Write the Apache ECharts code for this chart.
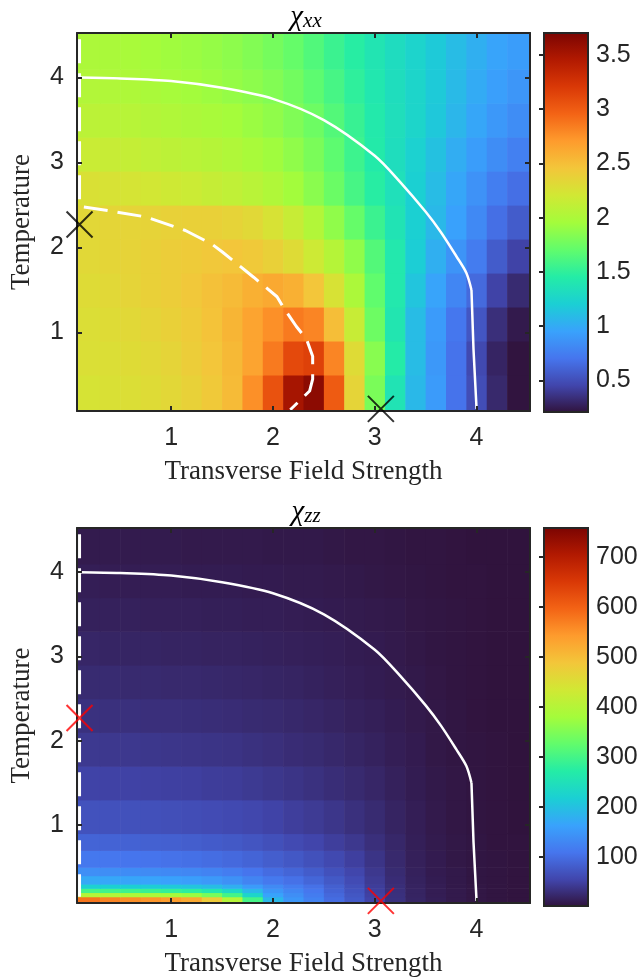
<!DOCTYPE html>
<html>
<head>
<meta charset="utf-8">
<script src="https://cdn.jsdelivr.net/npm/echarts@6/dist/echarts.min.js"></script>
<style>
  html, body { margin: 0; padding: 0; background: #fff; }
  #chart { width: 642px; height: 978px; }
</style>
</head>
<body>
<div id="chart"></div>
<script>
// cell edges (data units)
const xEdges = [0.075, 0.3, 0.5, 0.7, 0.9, 1.1, 1.3, 1.5, 1.7, 1.9, 2.1, 2.3, 2.5, 2.7, 2.9, 3.1, 3.3, 3.5, 3.7, 3.9, 4.1, 4.3, 4.525]
const xxYEdges = [0.075, 0.5, 0.9, 1.3, 1.7, 2.1, 2.5, 2.9, 3.3, 3.7, 4.1, 4.525]
const zzYEdges = [0.075, 0.15, 0.2, 0.25, 0.3, 0.4, 0.5, 0.7, 0.9, 1.3, 1.7, 2.1, 2.5, 2.9, 3.3, 3.7, 4.1, 4.525]

// chi_xx, rows from bottom to top
const chiXX = [
  [2.24, 2.26, 2.28, 2.3, 2.33, 2.37, 2.43, 2.52, 2.75, 3.05, 3.5, 3.62, 3.0, 2.35, 1.8, 1.38, 1.08, 0.92, 0.7, 0.5, 0.32, 0.22],
  [2.27, 2.28, 2.3, 2.32, 2.35, 2.4, 2.45, 2.53, 2.65, 2.85, 3.1, 3.15, 2.8, 2.3, 1.85, 1.45, 1.1, 0.9, 0.7, 0.48, 0.3, 0.22],
  [2.28, 2.3, 2.32, 2.35, 2.38, 2.42, 2.47, 2.55, 2.65, 2.75, 2.85, 2.8, 2.5, 2.15, 1.75, 1.4, 1.1, 0.92, 0.72, 0.55, 0.35, 0.25],
  [2.3, 2.32, 2.35, 2.38, 2.4, 2.44, 2.48, 2.52, 2.58, 2.62, 2.58, 2.45, 2.25, 2.0, 1.7, 1.42, 1.15, 0.97, 0.8, 0.65, 0.45, 0.33],
  [2.32, 2.34, 2.36, 2.38, 2.4, 2.42, 2.44, 2.45, 2.43, 2.38, 2.3, 2.18, 2.05, 1.88, 1.65, 1.42, 1.2, 1.03, 0.88, 0.75, 0.58, 0.45],
  [2.33, 2.34, 2.35, 2.36, 2.37, 2.38, 2.38, 2.36, 2.32, 2.25, 2.15, 2.03, 1.88, 1.72, 1.55, 1.38, 1.22, 1.08, 0.95, 0.82, 0.68, 0.58],
  [2.26, 2.25, 2.23, 2.21, 2.19, 2.17, 2.14, 2.11, 2.07, 2.02, 1.95, 1.86, 1.74, 1.6, 1.47, 1.35, 1.22, 1.1, 0.98, 0.87, 0.76, 0.68],
  [2.16, 2.15, 2.13, 2.11, 2.09, 2.07, 2.05, 2.02, 1.98, 1.94, 1.88, 1.8, 1.69, 1.56, 1.44, 1.33, 1.23, 1.13, 1.02, 0.93, 0.84, 0.77],
  [2.08, 2.07, 2.06, 2.04, 2.02, 2.0, 1.98, 1.96, 1.92, 1.88, 1.82, 1.75, 1.65, 1.54, 1.43, 1.34, 1.26, 1.17, 1.07, 0.98, 0.9, 0.84],
  [2.03, 2.02, 2.01, 1.99, 1.97, 1.95, 1.93, 1.9, 1.87, 1.83, 1.77, 1.69, 1.6, 1.5, 1.41, 1.33, 1.26, 1.18, 1.09, 1.01, 0.94, 0.89],
  [2.0, 1.99, 1.98, 1.96, 1.94, 1.92, 1.9, 1.87, 1.83, 1.78, 1.72, 1.64, 1.55, 1.47, 1.39, 1.32, 1.25, 1.18, 1.1, 1.03, 0.97, 0.93]
]

// chi_zz, rows from bottom to top
const chiZZ = [
  [580, 565, 555, 548, 540, 525, 480, 400, 300, 190, 150, 125, 100, 80, 55, 35, 22, 15, 10, 7, 5, 4],
  [400, 395, 392, 388, 382, 372, 345, 300, 230, 165, 140, 118, 95, 76, 52, 34, 21, 14, 10, 7, 5, 4],
  [300, 297, 294, 290, 285, 278, 262, 235, 190, 150, 130, 112, 90, 72, 50, 33, 21, 14, 10, 7, 5, 4],
  [222, 220, 218, 215, 211, 206, 196, 180, 155, 135, 120, 105, 86, 68, 48, 32, 20, 14, 9, 7, 5, 4],
  [172, 170, 168, 166, 163, 159, 153, 143, 128, 115, 105, 93, 78, 63, 45, 30, 19, 13, 9, 6, 5, 4],
  [141, 140, 138, 136, 134, 131, 127, 120, 110, 100, 92, 82, 70, 57, 42, 28, 18, 12, 9, 6, 5, 4],
  [113, 112, 110, 109, 107, 104, 101, 97, 91, 84, 77, 69, 60, 50, 38, 26, 17, 12, 8, 6, 5, 4],
  [91, 90, 89, 87, 86, 84, 81, 78, 74, 68, 62, 56, 49, 42, 33, 24, 16, 11, 8, 6, 4, 4],
  [71, 70, 69, 68, 67, 65, 63, 61, 58, 54, 49, 45, 40, 34, 28, 21, 15, 10, 7, 5, 4, 3],
  [54, 53, 53, 52, 51, 50, 48, 47, 44, 41, 38, 35, 31, 27, 23, 18, 13, 9, 7, 5, 4, 3],
  [43, 42, 42, 41, 40, 39, 38, 37, 35, 33, 30, 28, 25, 22, 19, 15, 12, 8, 6, 5, 4, 3],
  [35, 34, 34, 33, 33, 32, 31, 30, 28, 27, 25, 23, 21, 18, 16, 13, 10, 8, 6, 4, 3, 3],
  [28, 28, 27, 27, 26, 26, 25, 24, 23, 22, 21, 19, 17, 15, 13, 11, 9, 7, 5, 4, 3, 3],
  [23, 22, 22, 22, 21, 21, 20, 20, 19, 18, 17, 16, 15, 13, 12, 10, 8, 6, 5, 4, 3, 3],
  [18, 18, 18, 17, 17, 17, 16, 16, 15, 15, 14, 13, 12, 11, 10, 9, 7, 6, 5, 4, 3, 3],
  [15, 14, 14, 14, 14, 13, 13, 13, 12, 12, 11, 11, 10, 9, 8, 7, 6, 5, 4, 4, 3, 3],
  [11, 11, 11, 11, 11, 10, 10, 10, 10, 9, 9, 9, 8, 7, 7, 6, 5, 5, 4, 3, 3, 3]
]

// phase boundary (solid): curved arc then near-vertical drop
const arcX = [0.1, 0.5, 1.0, 1.5, 2.0, 2.5, 3.0, 3.25, 3.5, 3.65, 3.8, 3.9, 3.95]
const arcY = [4.0, 3.99, 3.96, 3.88, 3.75, 3.5, 3.08, 2.77, 2.42, 2.18, 1.9, 1.7, 1.5]
const dropX = [3.95, 3.97, 4.0]
const dropY = [1.5, 0.8, 0.1]
// crossover (dashed)
const dashXX_X = [0.1, 0.1, 0.12, 0.4, 0.75, 1.14, 1.4, 1.5, 1.81, 2.04, 2.1, 2.23, 2.33, 2.39, 2.39, 2.36, 2.17]
const dashXX_Y = [4.45, 2.55, 2.48, 2.43, 2.36, 2.2, 2.04, 1.95, 1.65, 1.42, 1.3, 1.07, 0.92, 0.72, 0.45, 0.31, 0.09]
const dashZZ_X = [0.1, 0.1]
const dashZZ_Y = [4.45, 0.15]

// critical points
const markX = [0.1, 3.06]
const markY = [2.27, 0.1]

const xTicks = [1, 2, 3, 4]
const yTicks = [1, 2, 3, 4]
const xxBarTicks = [0.5, 1, 1.5, 2, 2.5, 3, 3.5]
const zzBarTicks = [100, 200, 300, 400, 500, 600, 700]
const xxRange = [0.21, 3.70]
const zzRange = [2, 758]

// turbo colormap
const turboColors = ['#30123b', '#4145ab', '#4675ed', '#39a2fc', '#1bcfd4', '#24eca6', '#61fc6c',
  '#a4fc3b', '#d1e834', '#f3c63a', '#fe9b2d', '#f36315', '#d93806', '#b11901', '#7a0402']
const turboStops = turboColors.map((c, i) => ({ offset: i / (turboColors.length - 1), color: c }))

function cells(grid, yEdges) {
  const out = []
  grid.forEach((row, j) => {
    row.forEach((v, i) => {
      out.push([xEdges[i], xEdges[i + 1], yEdges[j], yEdges[j + 1], v])
    })
  })
  return out
}
const pairs = (xs, ys) => xs.map((x, i) => [x, ys[i]])

const axisColor = '#262626'
const tickFont = { fontFamily: 'Liberation Sans', fontSize: 25, color: axisColor }
const serif = 'Liberation Serif'

function mainAxes(gridIndex) {
  const common = {
    type: 'value', gridIndex: gridIndex, min: 0.075, max: 4.525, z: 10,
    splitLine: { show: false },
    axisLine: { show: true, onZero: false, lineStyle: { color: axisColor, width: 2 } }
  }
  const tick = { inside: true, length: 5, lineStyle: { color: axisColor, width: 2 } }
  const x = [
    Object.assign({}, common, {
      position: 'bottom',
      axisTick: Object.assign({ customValues: xTicks }, tick),
      axisLabel: Object.assign({ customValues: xTicks, margin: 15 }, tickFont),
      name: 'Transverse Field Strength', nameLocation: 'middle', nameGap: 47,
      nameTextStyle: { fontFamily: serif, fontSize: 27, color: axisColor }
    }),
    Object.assign({}, common, {
      position: 'top',
      axisTick: Object.assign({ customValues: xTicks }, tick),
      axisLabel: { show: false }
    })
  ]
  const y = [
    Object.assign({}, common, {
      position: 'left',
      axisTick: Object.assign({ customValues: yTicks }, tick),
      axisLabel: Object.assign({ customValues: yTicks, margin: 13 }, tickFont),
      name: 'Temperature', nameLocation: 'middle', nameGap: 42,
      nameTextStyle: { fontFamily: serif, fontSize: 27, color: axisColor }
    }),
    Object.assign({}, common, {
      position: 'right',
      axisTick: Object.assign({ customValues: yTicks }, tick),
      axisLabel: { show: false }
    })
  ]
  return { x, y }
}

function barAxes(gridIndex, range, ticks) {
  return {
    x: { type: 'value', gridIndex: gridIndex, min: 0, max: 1, show: false },
    y: {
      type: 'value', gridIndex: gridIndex, min: range[0], max: range[1], position: 'right', z: 10,
      splitLine: { show: false },
      axisLine: { show: false },
      axisTick: { inside: true, length: 5, customValues: ticks, lineStyle: { color: axisColor, width: 2 } },
      axisLabel: Object.assign({ customValues: ticks, margin: 8 }, tickFont)
    }
  }
}

const axesTop = mainAxes(0)
const axesBot = mainAxes(2)
const barTop = barAxes(1, xxRange, xxBarTicks)
const barBot = barAxes(3, zzRange, zzBarTicks)

function renderCell(params, api) {
  const p0 = api.coord([api.value(0), api.value(3)])
  const p1 = api.coord([api.value(1), api.value(2)])
  return {
    type: 'rect',
    shape: { x: p0[0], y: p0[1], width: p1[0] - p0[0] + 0.6, height: p1[1] - p0[1] + 0.6 },
    style: { fill: api.visual('color') }
  }
}
function renderBar(params, api) {
  const p0 = api.coord([0, api.value(1)])
  const p1 = api.coord([1, api.value(0)])
  return {
    type: 'rect',
    shape: { x: p0[0], y: p0[1], width: p1[0] - p0[0], height: p1[1] - p0[1] },
    style: {
      fill: new echarts.graphic.LinearGradient(0, 1, 0, 0, turboStops),
      stroke: axisColor, lineWidth: 2
    }
  }
}

function lineSeries(xi, yi, xs, ys, dashed, smooth) {
  return {
    type: 'line', xAxisIndex: xi, yAxisIndex: yi, data: pairs(xs, ys),
    symbol: 'none', silent: true, z: 5,
    smooth: smooth ? 0.3 : false,
    lineStyle: { color: '#ffffff', width: dashed ? 3 : 2.5, type: dashed ? [24, 10] : 'solid' }
  }
}
function markSeries(xi, yi, color) {
  return {
    type: 'scatter', xAxisIndex: xi, yAxisIndex: yi, data: pairs(markX, markY),
    symbol: 'path://M0,0L10,10M10,0L0,10', symbolSize: 26, clip: false, z: 12,
    itemStyle: { color: 'none', borderColor: color, borderWidth: 2 }
  }
}

function titleText(sub, topPx) {
  return {
    text: '{c|χ}{s|' + sub + '}', left: 301, top: topPx, textAlign: 'center',
    textStyle: { fontWeight: 'normal', rich: {
      c: { fontFamily: serif, fontStyle: 'italic', fontWeight: 'normal', fontSize: 29, color: '#000' },
      s: { fontFamily: serif, fontStyle: 'italic', fontWeight: 'normal', fontSize: 21, color: '#000', padding: [9, 0, 0, 0] }
    } }
  }
}

const chart = echarts.init(document.getElementById('chart'), null, { renderer: 'canvas' })
chart.setOption({
  animation: false,
  title: [titleText('xx', -3), titleText('zz', 492)],
  grid: [
    { left: 72, top: 33, width: 458, height: 378 },
    { left: 544, top: 33, width: 44, height: 379 },
    { left: 72, top: 528, width: 458, height: 377 },
    { left: 544, top: 528, width: 44, height: 378 }
  ],
  xAxis: [axesTop.x[0], axesTop.x[1], barTop.x, axesBot.x[0], axesBot.x[1], barBot.x],
  yAxis: [axesTop.y[0], axesTop.y[1], barTop.y, axesBot.y[0], axesBot.y[1], barBot.y],
  visualMap: [
    { type: 'continuous', show: false, seriesIndex: 0, dimension: 4, min: xxRange[0], max: xxRange[1], inRange: { color: turboColors } },
    { type: 'continuous', show: false, seriesIndex: 6, dimension: 4, min: zzRange[0], max: zzRange[1], inRange: { color: turboColors } }
  ],
  series: [
    { type: 'custom', xAxisIndex: 0, yAxisIndex: 0, data: cells(chiXX, xxYEdges), renderItem: renderCell, silent: true, z: 1 },
    lineSeries(0, 0, arcX, arcY, false, true),
    lineSeries(0, 0, dropX, dropY, false, false),
    lineSeries(0, 0, dashXX_X, dashXX_Y, true, false),
    markSeries(0, 0, '#000000'),
    { type: 'custom', xAxisIndex: 2, yAxisIndex: 2, data: [xxRange], renderItem: renderBar, silent: true },
    { type: 'custom', xAxisIndex: 3, yAxisIndex: 3, data: cells(chiZZ, zzYEdges), renderItem: renderCell, silent: true, z: 1 },
    lineSeries(3, 3, arcX, arcY, false, true),
    lineSeries(3, 3, dropX, dropY, false, false),
    lineSeries(3, 3, dashZZ_X, dashZZ_Y, true, false),
    markSeries(3, 3, '#ff0000'),
    { type: 'custom', xAxisIndex: 5, yAxisIndex: 5, data: [zzRange], renderItem: renderBar, silent: true }
  ]
})
</script>
</body>
</html>
